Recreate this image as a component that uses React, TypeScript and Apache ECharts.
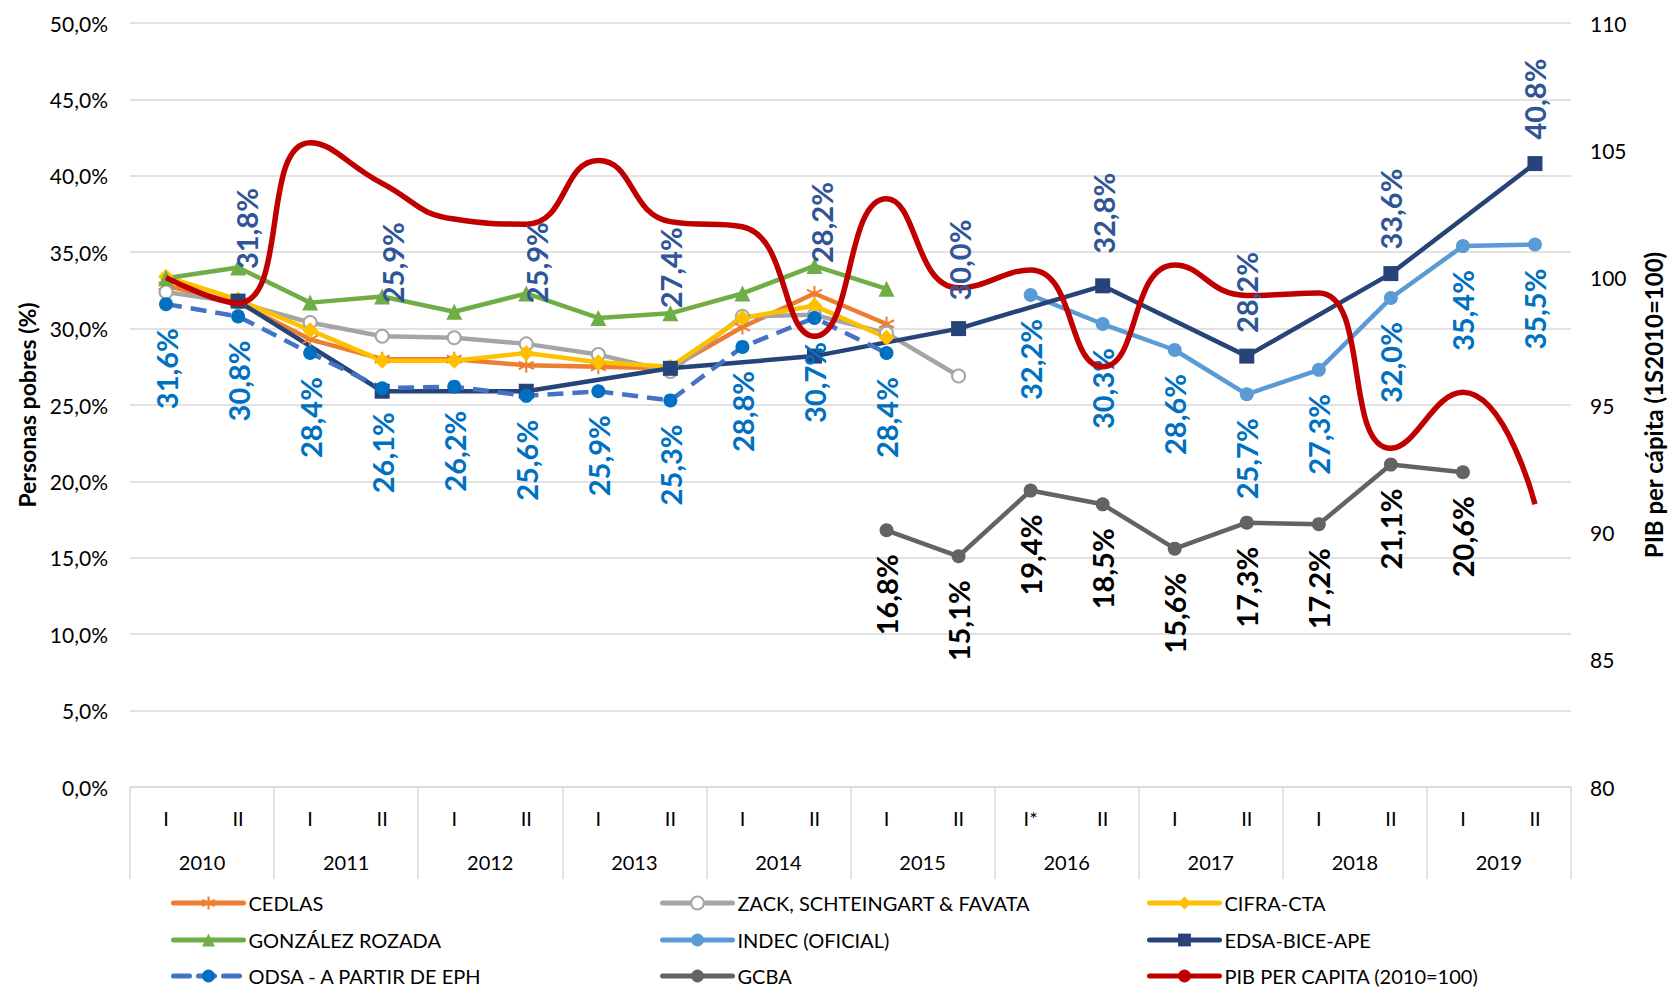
import React, { useEffect, useRef } from "react";
import * as echarts from "echarts";

const SEMESTERS = ["I", "II", "I", "II", "I", "II", "I", "II", "I", "II", "I", "II", "I*", "II", "I", "II", "I", "II", "I", "II"];
const YEARS = ["2010", "2011", "2012", "2013", "2014", "2015", "2016", "2017", "2018", "2019"];

const CEDLAS = [32.8, 31.7, 29.3, 28.0, 28.0, 27.6, 27.5, 27.4, 30.1, 32.3, 30.3, null, null, null, null, null, null, null, null, null];
const ZACK = [32.4, 31.7, 30.4, 29.5, 29.4, 29.0, 28.3, 27.2, 30.8, 30.9, 29.7, 26.9, null, null, null, null, null, null, null, null];
const CIFRA = [33.4, 31.9, 29.9, 27.9, 27.9, 28.4, 27.8, 27.5, 30.7, 31.5, 29.4, null, null, null, null, null, null, null, null, null];
const GONZALEZ = [33.3, 34.0, 31.7, 32.1, 31.1, 32.3, 30.7, 31.0, 32.3, 34.1, 32.6, null, null, null, null, null, null, null, null, null];
const INDEC = [null, null, null, null, null, null, null, null, null, null, null, null, 32.2, 30.3, 28.6, 25.7, 27.3, 32.0, 35.4, 35.5];
const EDSA = [null, 31.8, null, 25.9, null, 25.9, null, 27.4, null, 28.2, null, 30.0, null, 32.8, null, 28.2, null, 33.6, null, 40.8];
const ODSA = [31.6, 30.8, 28.4, 26.1, 26.2, 25.6, 25.9, 25.3, 28.8, 30.7, 28.4, null, null, null, null, null, null, null, null, null];
const GCBA = [null, null, null, null, null, null, null, null, null, null, 16.8, 15.1, 19.4, 18.5, 15.6, 17.3, 17.2, 21.1, 20.6, null];
const PIB = [100.0, 99.0, 105.3, 103.7, 102.3, 102.1, 104.6, 102.2, 102.0, 97.7, 103.1, 99.6, 100.3, 96.5, 100.5, 99.3, 99.4, 93.3, 95.5, 91.1];

// label placement (px) above EDSA points, in order of the annual points
const EDSA_LABEL_GAP = [32, 88, 88, 60, 93, 28, 32, 23, 24, 24];
const EDSA_LABEL_DX = [8, 10, 10, 0, 7, 1, 1, 0, 0, 0];

// legend layout
const LEGEND_COLS = [171, 660, 1147];
const LEGEND_ROWS = [893, 930, 966];
const LEGEND_NAMES = [
  ["CEDLAS", "ZACK, SCHTEINGART & FAVATA", "CIFRA-CTA"],
  ["GONZÁLEZ ROZADA", "INDEC (OFICIAL)", "EDSA-BICE-APE"],
  ["ODSA - A PARTIR DE EPH", "GCBA", "PIB PER CAPITA (2010=100)"],
];

const FONT = "Lato";
const fmtPct = (v: number) => v.toFixed(1).replace(".", ",") + "%";

const ASTERISK = "path://M10 0 L10 20 M1.34 5 L18.66 15 M1.34 15 L18.66 5";
const LABEL_SIZE = 29;

export default function App() {
  const ref = useRef<HTMLDivElement>(null);
  useEffect(() => {
    const chart = echarts.init(ref.current!, undefined, { renderer: "svg" });

    const bottomLabel = (color: string) => ({
      show: true,
      position: "bottom",
      rotate: 90,
      align: "right",
      verticalAlign: "middle",
      distance: 17,
      fontSize: LABEL_SIZE,
      fontWeight: "bold",
      fontFamily: FONT,
      color,
      formatter: (p: any) => fmtPct(p.value),
    });

    const legends: any[] = [];
    LEGEND_NAMES.forEach((row, r) =>
      row.forEach((name, c) =>
        legends.push({
          data: [name],
          left: LEGEND_COLS[c],
          top: LEGEND_ROWS[r],
          orient: "horizontal",
          itemWidth: 70,
          itemHeight: 16,
          selectedMode: false,
          padding: 0,
          lineStyle: { width: 5, cap: "round" },
          textStyle: { fontSize: 20, lineHeight: 20, color: "#000", fontFamily: FONT },
        })
      )
    );

    const option: any = {
      animation: false,
      backgroundColor: "#ffffff",
      textStyle: { fontFamily: FONT },
      grid: { left: 130, right: 99, top: 23, bottom: 201, containLabel: false },
      xAxis: [
        {
          type: "category",
          data: SEMESTERS,
          position: "bottom",
          boundaryGap: true,
          axisLine: { show: true, lineStyle: { color: "#d9d9d9", width: 1.5 } },
          axisTick: { show: false },
          axisLabel: { interval: 0, margin: 21, fontSize: 20, color: "#000", fontFamily: FONT },
          splitLine: { show: false },
        },
        {
          type: "category",
          data: YEARS,
          position: "bottom",
          boundaryGap: true,
          axisLine: { show: false },
          axisTick: { show: true, length: 92, interval: 0, lineStyle: { color: "#d9d9d9", width: 1.5 } },
          axisLabel: { interval: 0, margin: 65, fontSize: 20, color: "#000", fontFamily: FONT },
          splitLine: { show: false },
        },
      ],
      yAxis: [
        {
          type: "value",
          min: 0,
          max: 50,
          interval: 5,
          position: "left",
          axisLine: { show: false },
          axisTick: { show: false },
          axisLabel: { formatter: (v: number) => fmtPct(v), fontSize: 21, margin: 22, color: "#000", fontFamily: FONT },
          splitLine: { lineStyle: { color: "#d9d9d9", width: 1.5 } },
          name: "Personas pobres (%)",
          nameLocation: "middle",
          nameRotate: 90,
          nameGap: 90,
          nameTextStyle: { fontSize: 23, fontWeight: "bold", color: "#000", fontFamily: FONT },
        },
        {
          type: "value",
          min: 80,
          max: 110,
          interval: 5,
          position: "right",
          axisLine: { show: false },
          axisTick: { show: false },
          axisLabel: { fontSize: 21, margin: 19, color: "#000", fontFamily: FONT },
          splitLine: { show: false },
          name: "PIB per cápita (1S2010=100)",
          nameLocation: "middle",
          nameRotate: 90,
          nameGap: 70,
          nameTextStyle: { fontSize: 24, fontWeight: "bold", color: "#000", fontFamily: FONT },
        },
      ],
      legend: legends,
      series: [
        {
          name: "CEDLAS",
          type: "line",
          data: CEDLAS,
          symbol: ASTERISK,
          symbolSize: 15,
          lineStyle: { color: "#ED7D31", width: 4.5 },
          itemStyle: { color: "#ED7D31", borderColor: "#ED7D31", borderWidth: 2 },
        },
        {
          name: "ZACK, SCHTEINGART & FAVATA",
          type: "line",
          data: ZACK,
          symbol: "emptyCircle",
          symbolSize: 13,
          lineStyle: { color: "#A5A5A5", width: 4.5 },
          itemStyle: { color: "#A5A5A5", borderColor: "#A5A5A5", borderWidth: 3 },
        },
        {
          name: "CIFRA-CTA",
          type: "line",
          data: CIFRA,
          symbol: "diamond",
          symbolSize: 16,
          lineStyle: { color: "#FFC000", width: 4.5 },
          itemStyle: { color: "#FFC000", borderWidth: 0 },
        },
        {
          name: "GONZÁLEZ ROZADA",
          type: "line",
          data: GONZALEZ,
          symbol: "triangle",
          symbolSize: 16,
          lineStyle: { color: "#70AD47", width: 4.5 },
          itemStyle: { color: "#70AD47", borderWidth: 0 },
        },
        {
          name: "INDEC (OFICIAL)",
          type: "line",
          data: INDEC,
          symbol: "circle",
          symbolSize: 14,
          lineStyle: { color: "#5B9BD5", width: 4.5 },
          itemStyle: { color: "#5B9BD5", borderWidth: 0 },
          label: bottomLabel("#0070C0"),
        },
        {
          name: "EDSA-BICE-APE",
          type: "line",
          data: EDSA,
          connectNulls: true,
          symbol: "rect",
          symbolSize: 15,
          lineStyle: { color: "#264478", width: 4.5 },
          itemStyle: { color: "#264478", borderWidth: 0 },
        },
        {
          name: "ODSA - A PARTIR DE EPH",
          type: "line",
          data: ODSA,
          symbol: "circle",
          symbolSize: 14,
          lineStyle: { color: "#4472C4", width: 4.5, type: [16, 9] },
          itemStyle: { color: "#0070C0", borderWidth: 0 },
          label: bottomLabel("#0070C0"),
        },
        {
          name: "GCBA",
          type: "line",
          data: GCBA,
          symbol: "circle",
          symbolSize: 14,
          lineStyle: { color: "#636363", width: 4.5 },
          itemStyle: { color: "#636363", borderWidth: 0 },
          label: bottomLabel("#000000"),
        },
        {
          name: "PIB PER CAPITA (2010=100)",
          type: "line",
          yAxisIndex: 1,
          data: PIB,
          smooth: true,
          symbol: "none",
          lineStyle: { color: "#C00000", width: 5.5 },
          itemStyle: { color: "#C00000" },
          z: 5,
        },
      ],
    };
    chart.setOption(option);

    // EDSA labels above points, placed via the chart's own scales
    const graphics: any[] = [];
    let k = 0;
    EDSA.forEach((v, i) => {
      if (v == null) return;
      const [px, py] = chart.convertToPixel({ xAxisIndex: 0, yAxisIndex: 0 }, [i, v]) as number[];
      const gap = EDSA_LABEL_GAP[k];
      const dx = EDSA_LABEL_DX[k];
      k++;
      graphics.push({
        type: "text",
        x: px + dx,
        y: py - gap,
        rotation: Math.PI / 2,
        z: 100,
        style: {
          text: fmtPct(v),
          fill: "#2F5597",
          font: `bold ${LABEL_SIZE}px ${FONT}`,
          fontSize: LABEL_SIZE,
          fontWeight: "bold",
          fontFamily: FONT,
          align: "left",
          verticalAlign: "middle",
          textAlign: "left",
          textVerticalAlign: "middle",
        },
      });
    });
    chart.setOption({ graphic: graphics });

    return () => chart.dispose();
  }, []);
  return (
    <div
      ref={ref}
      style={{ position: "fixed", left: 0, top: 0, width: 1673, height: 988, background: "#fff" }}
    />
  );
}
